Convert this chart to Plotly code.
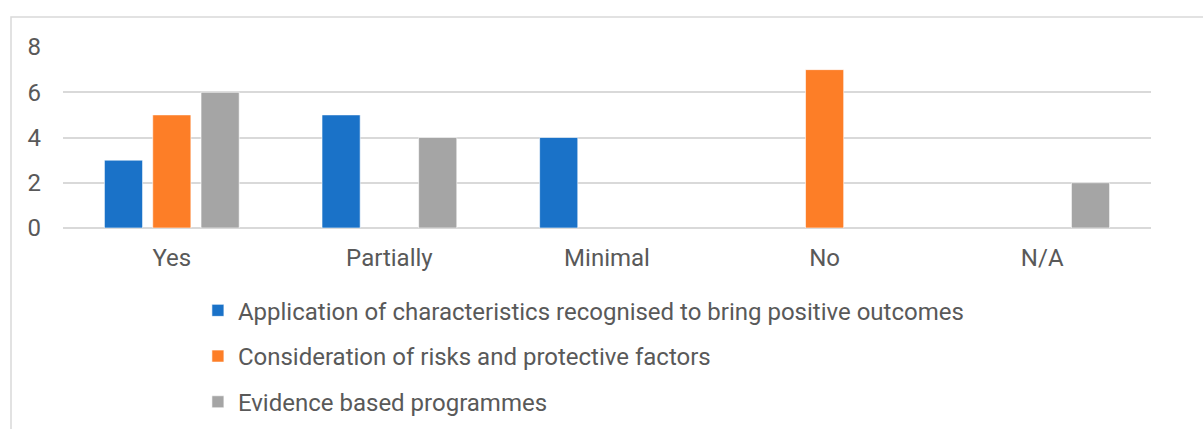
import plotly.graph_objects as go

categories = ["Yes", "Partially", "Minimal", "No", "N/A"]
application = [3, 5, 4, None, None]
consideration = [5, None, None, 7, None]
evidence = [6, 4, None, None, 2]
series_names = [
    "Application of characteristics recognised to bring positive outcomes",
    "Consideration of risks and protective factors",
    "Evidence based programmes",
]
colors = ["#1A72C8", "#FD7E27", "#A5A5A5"]
y_ticks = [0, 2, 4, 6, 8]

fig = go.Figure()
for i, (name, vals) in enumerate(zip(series_names, [application, consideration, evidence])):
    fig.add_trace(go.Bar(
        x=categories, y=vals, name=name,
        marker=dict(color=colors[i], line=dict(color="rgba(255,255,255,0.6)", width=1)),
        legendgroup=f"g{i}",
    ))

font_color = "#595959"
fs = 24
fig.update_layout(
    width=1203, height=429,
    margin=dict(l=63, r=52, t=47, b=201, autoexpand=False),
    paper_bgcolor="white", plot_bgcolor="white",
    font=dict(family="Roboto", size=fs, color=font_color),
    barmode="group", bargap=0.334, bargroupgap=0.21,
    showlegend=True,
    legend=dict(
        orientation="v", x=0.124, xanchor="left", y=-0.333, yanchor="top",
        tracegroupgap=11.5, font=dict(size=fs, color=font_color),
        bgcolor="rgba(0,0,0,0)",
    ),
    xaxis=dict(showgrid=False, showline=False, zeroline=False, ticks="", automargin=False,
               ticklabelstandoff=13, tickfont=dict(size=fs, color=font_color)),
    yaxis=dict(range=[0, 8], tickvals=y_ticks, showgrid=True, gridcolor="#D9D9D9",
               gridwidth=1.5, zeroline=True, zerolinecolor="#D9D9D9", zerolinewidth=1.5,
               showline=False, ticks="", ticklabelstandoff=21, automargin=False,
               tickfont=dict(size=fs, color=font_color)),
    shapes=[dict(type="rect", xref="paper", yref="paper",
                 x0=(11 - 63) / 1088, x1=1.2, y0=-1.5, y1=(228 - 17) / 181,
                 line=dict(color="#D9D9D9", width=1.5), fillcolor="rgba(0,0,0,0)",
                 layer="below")],
)

fig.write_html("out.html")
